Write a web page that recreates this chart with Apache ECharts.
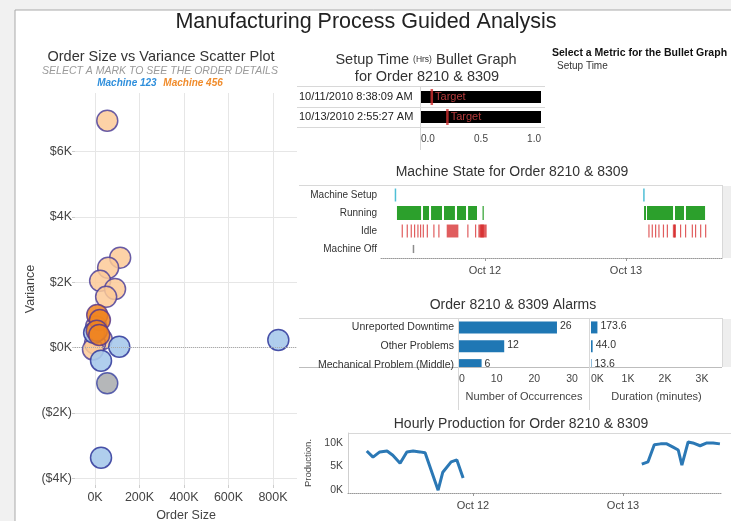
<!DOCTYPE html>
<html>
<head>
<meta charset="utf-8">
<title>Manufacturing Process Guided Analysis</title>
<script src="https://cdn.jsdelivr.net/npm/echarts@6/dist/echarts.min.js"></script>
<style>
  html, body { margin: 0; padding: 0; background: #f1f1f1; }
  #dash { width: 731px; height: 521px; }
</style>
</head>
<body>
<div id="dash"></div>
<script>
  // ---- scatter: [order size, variance $] ----
  var machine456 = [[55000, 6940], [113000, 2750], [59000, 2440], [23000, 2040], [90000, 1790],
                    [50000, 1550], [5000, 640], [30000, 250], [0, 120], [-9000, -60]];
  var machine456Selected = [[10000, 995], [22000, 840], [8000, 514], [19000, 383]];
  var machine123 = [[-4000, 450], [109000, 25], [27000, -404], [824000, 230], [27000, -3372]];
  var machine123Dim = [[55000, -1096]];

  // ---- bullet graph ----
  var bulletOrders = ['10/11/2010 8:38:09 AM', '10/13/2010 2:55:27 AM'];
  var setupHours = [1.0, 1.0];
  var setupTarget = [0.09, 0.22];

  // ---- machine state ----
  var stateNames = ['Machine Setup', 'Running', 'Idle', 'Machine Off'];
  var setupPeriods = [['2010-10-11 08:38', '2010-10-11 08:45'], ['2010-10-13 02:55', '2010-10-13 03:02']];
  var runningPeriods = [
    ['2010-10-11 09:01', '2010-10-11 13:07'], ['2010-10-11 13:27', '2010-10-11 14:28'],
    ['2010-10-11 14:49', '2010-10-11 16:41'], ['2010-10-11 17:01', '2010-10-11 18:53'],
    ['2010-10-11 19:14', '2010-10-11 20:46'], ['2010-10-11 21:07', '2010-10-11 22:38'],
    ['2010-10-11 23:35', '2010-10-11 23:44'],
    ['2010-10-13 03:04', '2010-10-13 03:24'], ['2010-10-13 03:34', '2010-10-13 08:00'],
    ['2010-10-13 08:20', '2010-10-13 09:52'], ['2010-10-13 10:12', '2010-10-13 13:27']
  ];
  var idlePeriods = [
    ['2010-10-11 09:49', '2010-10-11 09:55'], ['2010-10-11 10:40', '2010-10-11 10:46'],
    ['2010-10-11 11:21', '2010-10-11 11:27'], ['2010-10-11 11:55', '2010-10-11 12:01'],
    ['2010-10-11 12:29', '2010-10-11 12:35'], ['2010-10-11 12:56', '2010-10-11 13:02'],
    ['2010-10-11 13:24', '2010-10-11 13:30'], ['2010-10-11 14:05', '2010-10-11 14:11'],
    ['2010-10-11 15:12', '2010-10-11 15:18'], ['2010-10-11 16:03', '2010-10-11 16:09'],
    ['2010-10-11 17:29', '2010-10-11 19:28'], ['2010-10-11 20:59', '2010-10-11 21:05'],
    ['2010-10-11 22:18', '2010-10-11 22:24'], ['2010-10-11 22:52', '2010-10-12 00:17'],
    ['2010-10-11 23:12', '2010-10-11 23:48'],
    ['2010-10-13 03:48', '2010-10-13 03:54'], ['2010-10-13 04:22', '2010-10-13 04:28'],
    ['2010-10-13 04:56', '2010-10-13 05:02'], ['2010-10-13 05:30', '2010-10-13 05:36'],
    ['2010-10-13 06:16', '2010-10-13 06:22'], ['2010-10-13 06:56', '2010-10-13 07:02'],
    ['2010-10-13 07:58', '2010-10-13 08:30'], ['2010-10-13 08:08', '2010-10-13 08:22'],
    ['2010-10-13 09:11', '2010-10-13 09:17'], ['2010-10-13 10:02', '2010-10-13 10:08'],
    ['2010-10-13 11:11', '2010-10-13 11:17'], ['2010-10-13 11:44', '2010-10-13 11:50'],
    ['2010-10-13 12:36', '2010-10-13 12:42'], ['2010-10-13 13:27', '2010-10-13 13:33']
  ];
  var offPeriods = [['2010-10-11 11:42', '2010-10-11 11:48']];
  var dayTicks = ['2010-10-12 00:00', '2010-10-13 00:00'];
  var dayLabels = ['Oct 12', 'Oct 13'];

  // ---- alarms ----
  var alarmTypes = ['Unreported Downtime', 'Other Problems', 'Mechanical Problem (Middle)'];
  var alarmCounts = [26, 12, 6];
  var alarmMinutes = [173.6, 44.0, 13.6];

  // ---- hourly production ----
  var productionTimes = [
    '2010-10-11 07:00', '2010-10-11 08:00', '2010-10-11 09:05', '2010-10-11 10:15', '2010-10-11 11:10',
    '2010-10-11 12:20', '2010-10-11 13:25', '2010-10-11 14:25', '2010-10-11 15:30', '2010-10-11 16:20',
    '2010-10-11 18:25', '2010-10-11 19:10', '2010-10-11 20:30', '2010-10-11 21:25', '2010-10-11 22:25',
    '2010-10-12 12:00',
    '2010-10-13 03:00', '2010-10-13 04:00', '2010-10-13 05:00', '2010-10-13 06:00', '2010-10-13 07:00',
    '2010-10-13 08:00', '2010-10-13 08:50', '2010-10-13 09:25', '2010-10-13 10:25', '2010-10-13 11:10',
    '2010-10-13 12:20', '2010-10-13 13:25', '2010-10-13 14:25', '2010-10-13 15:30'
  ];
  var productionValues = [
    8300, 7000, 8100, 8300, 7400, 5700, 8100, 8300, 8100, 7900, 0, 3800, 6000, 6400, 2600,
    '-',
    5500, 6000, 9600, 9800, 9800, 9100, 8500, 5300, 10200, 10000, 9400, 10000, 10000, 9800
  ];

  var FONT = "'Liberation Sans', Arial, sans-serif";

  // time strings -> hours since Oct 12 00:00 (value axes)
  function hrs(s) {
    var p = s.split(/[- :]/);
    var t = new Date(+p[0], p[1] - 1, +p[2], +(p[3] || 0), +(p[4] || 0)).getTime();
    var base = new Date(2010, 9, 12, 0, 0).getTime();
    return (t - base) / 3600000;
  }
  function kFmt(v) { return (v / 1000) + 'K'; }
  function moneyFmt(v) {
    if (v === 0) return '$0K';
    return v < 0 ? '($' + (-v / 1000) + 'K)' : '$' + (v / 1000) + 'K';
  }
  var dayHours = dayTicks.map(hrs);
  function dayFmt(v) {
    var i = dayHours.indexOf(v);
    return i >= 0 ? dayLabels[i] : '';
  }

  // machine state rows: [row, start, end]
  var stateData = [];
  [setupPeriods, runningPeriods, idlePeriods, offPeriods].forEach(function (list, row) {
    list.forEach(function (p) { stateData.push([row, hrs(p[0]), hrs(p[1])]); });
  });
  var stateStyle = [
    { color: '#4fbfd6', h: 0.72, minW: 1.5, op: 1 },
    { color: '#2ca02c', h: 0.78, minW: 1.2, op: 1 },
    { color: '#d62728', h: 0.72, minW: 1.2, op: 0.75 },
    { color: '#8c8c8c', h: 0.45, minW: 1.5, op: 1 }
  ];

  function renderState(params, api) {
    var row = api.value(0);
    var s = api.coord([api.value(1), row]);
    var e = api.coord([api.value(2), row]);
    var st = stateStyle[row];
    var h = api.size([0, 1])[1] * st.h;
    return {
      type: 'rect',
      shape: { x: s[0], y: s[1] - h / 2, width: Math.max(e[0] - s[0], st.minW), height: h },
      style: { fill: st.color, opacity: st.op }
    };
  }

  function alarmRenderer(fmt) {
    return function (params, api) {
      var row = api.value(0), v = api.value(1);
      var s = api.coord([0, row]);
      var e = api.coord([v, row]);
      return {
        type: 'group',
        children: [
          { type: 'rect', shape: { x: s[0], y: s[1] - 6, width: e[0] - s[0], height: 12 },
            style: { fill: '#1f77b4' } },
          { type: 'text', x: e[0] + 3, y: s[1] - 1,
            style: { text: fmt(v), fill: '#333', font: '10.5px ' + FONT, verticalAlign: 'middle' } }
        ]
      };
    };
  }

  var countData = alarmCounts.map(function (v, i) { return [i, v]; });
  var minuteData = alarmMinutes.map(function (v, i) { return [i, v]; });
  var productionData = productionTimes.map(function (t, i) { return [hrs(t), productionValues[i]]; });

  var lineColor = '#d8d8d8';
  function hline(x1, x2, y, color) {
    return { type: 'line', silent: true, shape: { x1: x1, y1: y, x2: x2, y2: y },
             style: { stroke: color || lineColor, lineWidth: 1 } };
  }
  function vline(x, y1, y2, color) {
    return { type: 'line', silent: true, shape: { x1: x, y1: y1, x2: x, y2: y2 },
             style: { stroke: color || lineColor, lineWidth: 1 } };
  }
  function label(x, y, text, size, opts) {
    opts = opts || {};
    return { type: 'text', silent: true, x: x, y: y,
             style: { text: text, font: (opts.weight || 'normal') + ' ' + size + 'px ' + FONT,
                      fill: opts.color || '#333', align: opts.align || 'center', verticalAlign: 'middle' } };
  }
  function gridBox(left, top, width, height) {
    return { left: left, top: top, width: width, height: height, outerBoundsMode: 'none', containLabel: false };
  }

  var axisText = { fontFamily: FONT, color: '#444' };
  var noZero = { show: false, onZero: false };

  var chart = echarts.init(document.getElementById('dash'));
  chart.setOption({
    backgroundColor: '#f1f1f1',
    animation: false,
    textStyle: { fontFamily: FONT },
    graphic: [
      { type: 'rect', silent: true, z: -10, shape: { x: 15, y: 10, width: 740, height: 540 },
        style: { fill: '#fff', stroke: '#a9a9a9', lineWidth: 1 } },
      label(366, 22, 'Manufacturing Process Guided Analysis', 21.5, { color: '#222' }),
      label(161, 57, 'Order Size vs Variance Scatter Plot', 14.5, { color: '#333' }),
      label(160, 71, 'SELECT A MARK TO SEE THE ORDER DETAILS', 10.5, { color: '#9a9a9a', weight: 'italic' }),
      { type: 'text', silent: true, x: 160, y: 83,
        style: { text: '{b|Machine 123}  {o|Machine 456}', align: 'center', verticalAlign: 'middle',
                 rich: { b: { fill: '#2f8fdc', font: 'italic bold 10px ' + FONT },
                         o: { fill: '#f08c2c', font: 'italic bold 10px ' + FONT } } } },
      { type: 'text', silent: true, x: 426, y: 60,
        style: { text: '{a|Setup Time }{s|(Hrs)}{a| Bullet Graph}', align: 'center', verticalAlign: 'middle',
                 rich: { a: { fill: '#333', font: '14.5px ' + FONT }, s: { fill: '#333', font: '8.5px ' + FONT } } } },
      label(427, 77, 'for Order 8210 & 8309', 14.5),
      label(552, 53, 'Select a Metric for the Bullet Graph', 10.5, { align: 'left', weight: 'bold', color: '#111' }),
      label(557, 66, 'Setup Time', 10, { align: 'left', color: '#333' }),
      hline(297, 545, 86.5), hline(297, 545, 107.5), hline(297, 545, 127.5),
      vline(420.5, 86, 150),
      label(512, 172, 'Machine State for Order 8210 & 8309', 14),
      hline(299, 722, 185.5),
      vline(722.5, 185, 258),
      { type: 'rect', silent: true, shape: { x: 723, y: 186, width: 8, height: 72 }, style: { fill: '#eeeeee' } },
      label(513, 305, 'Order 8210 & 8309 Alarms', 14),
      hline(299, 722, 318.5),
      hline(299, 722, 367.5, '#bdbdbd'),
      vline(458.5, 318, 410), vline(589.5, 318, 410), vline(722.5, 318, 367),
      { type: 'rect', silent: true, shape: { x: 723, y: 319, width: 8, height: 48 }, style: { fill: '#eeeeee' } },
      label(521, 424, 'Hourly Production for Order 8210 & 8309', 14),
      hline(348, 731, 433.5)
    ],
    grid: [
      gridBox(75, 93, 222, 392),
      gridBox(421, 87, 120, 40),
      gridBox(381, 186, 341, 72),
      gridBox(459, 318, 130, 49),
      gridBox(591, 318, 131, 49),
      gridBox(348, 433, 374, 60)
    ],
    xAxis: [
      { type: 'value', gridIndex: 0, min: -90000, max: 908000,
        name: 'Order Size', nameLocation: 'middle', nameGap: 21,
        nameTextStyle: { fontSize: 12.5, color: '#444', fontFamily: FONT },
        axisLine: noZero, axisTick: { show: true, length: 3, lineStyle: { color: '#ccc' } },
        axisLabel: Object.assign({ fontSize: 12.5, margin: 6, formatter: kFmt, showMinLabel: false, showMaxLabel: false }, axisText),
        splitLine: { show: true, showMinLine: false, showMaxLine: false, lineStyle: { color: '#e6e6e6' } } },
      { type: 'value', gridIndex: 1, min: 0, max: 1, interval: 0.5,
        axisLine: noZero, axisTick: { show: false }, splitLine: { show: false },
        axisLabel: Object.assign({ fontSize: 10, margin: 7, alignMinLabel: 'left', alignMaxLabel: 'right',
                                   formatter: function (v) { return v.toFixed(1); } }, axisText) },
      { type: 'value', gridIndex: 2, min: hrs('2010-10-11 06:18'), max: hrs('2010-10-13 16:20'),
        axisLine: { show: true, onZero: false, lineStyle: { color: '#999', type: 'dotted' } },
        axisTick: { show: true, length: 3, customValues: dayHours, lineStyle: { color: '#999' } },
        axisLabel: Object.assign({ fontSize: 11, margin: 7, customValues: dayHours, formatter: dayFmt }, axisText),
        splitLine: { show: false } },
      { type: 'value', gridIndex: 3, min: 0, max: 34.5, interval: 10,
        name: 'Number of Occurrences', nameLocation: 'middle', nameGap: 24,
        nameTextStyle: { fontSize: 11, color: '#444', fontFamily: FONT },
        axisLine: noZero, axisTick: { show: false }, splitLine: { show: false },
        axisLabel: Object.assign({ fontSize: 10.5, margin: 7, alignMinLabel: 'left', showMaxLabel: false }, axisText) },
      { type: 'value', gridIndex: 4, min: 0, max: 3540, interval: 1000,
        name: 'Duration (minutes)', nameLocation: 'middle', nameGap: 24,
        nameTextStyle: { fontSize: 11, color: '#444', fontFamily: FONT },
        axisLine: noZero, axisTick: { show: false }, splitLine: { show: false },
        axisLabel: Object.assign({ fontSize: 10.5, margin: 7, alignMinLabel: 'left', showMaxLabel: false, formatter: kFmt }, axisText) },
      { type: 'value', gridIndex: 5, min: hrs('2010-10-11 04:00'), max: hrs('2010-10-13 15:50'),
        axisLine: { show: true, onZero: false, lineStyle: { color: '#999', type: 'dotted' } },
        axisTick: { show: true, length: 3, customValues: dayHours, lineStyle: { color: '#999' } },
        axisLabel: Object.assign({ fontSize: 11, margin: 7, customValues: dayHours, formatter: dayFmt }, axisText),
        splitLine: { show: false } }
    ],
    yAxis: [
      { type: 'value', gridIndex: 0, min: -4208, max: 7788,
        name: 'Variance', nameLocation: 'middle', nameGap: 33, nameRotate: 90,
        nameTextStyle: { fontSize: 12.5, color: '#444', fontFamily: FONT },
        axisLine: noZero, axisTick: { show: true, length: 3, lineStyle: { color: '#ccc' } },
        axisLabel: Object.assign({ fontSize: 12.5, margin: 3, formatter: moneyFmt, showMinLabel: false, showMaxLabel: false }, axisText),
        splitLine: { show: true, showMinLine: false, showMaxLine: false, lineStyle: { color: '#e6e6e6' } } },
      { type: 'category', gridIndex: 1, data: bulletOrders, inverse: true,
        axisLine: noZero, axisTick: { show: false },
        axisLabel: { fontSize: 11, color: '#222', fontFamily: FONT, align: 'left', margin: 122 } },
      { type: 'category', gridIndex: 2, data: stateNames, inverse: true,
        axisLine: noZero, axisTick: { show: false },
        axisLabel: { fontSize: 10, color: '#333', fontFamily: FONT, margin: 4 } },
      { type: 'value', gridIndex: 3, min: -0.5, max: 2.1, interval: 0.5, inverse: true,
        axisLine: noZero, axisTick: { show: false }, splitLine: { show: false },
        axisLabel: { fontSize: 10.5, color: '#333', fontFamily: FONT, margin: 5, showMaxLabel: false,
                     formatter: function (v) { return Number.isInteger(v) ? alarmTypes[v] : ''; } } },
      { type: 'value', gridIndex: 4, min: -0.5, max: 2.1, interval: 0.5, inverse: true,
        axisLine: noZero, axisTick: { show: false }, splitLine: { show: false },
        axisLabel: { show: false } },
      { type: 'value', gridIndex: 5, min: -600, max: 12100, splitNumber: 2,
        name: 'Production.', nameLocation: 'middle', nameGap: 27, nameRotate: 90,
        nameTextStyle: { fontSize: 9.5, color: '#444', fontFamily: FONT },
        axisLine: { show: true, onZero: false, lineStyle: { color: '#cfcfcf' } }, axisTick: { show: false },
        splitLine: { show: false },
        axisLabel: Object.assign({ fontSize: 10.5, margin: 5, formatter: kFmt, showMinLabel: false, showMaxLabel: false }, axisText) }
    ],
    series: [
      { name: 'Machine 456', type: 'scatter', xAxisIndex: 0, yAxisIndex: 0, data: machine456,
        symbolSize: 21, itemStyle: { color: '#fdca98', borderColor: '#4f429a', borderWidth: 1.5, opacity: 0.85 } },
      { name: 'Machine 123', type: 'scatter', xAxisIndex: 0, yAxisIndex: 0, data: machine123,
        symbolSize: 21, itemStyle: { color: '#a7c9eb', borderColor: '#363f9e', borderWidth: 1.5, opacity: 0.9 },
        markLine: { silent: true, symbol: 'none', label: { show: false },
                    lineStyle: { color: '#aaa', type: 'dotted', width: 1 }, data: [{ yAxis: 0 }] } },
      { name: 'Machine 123 (other)', type: 'scatter', xAxisIndex: 0, yAxisIndex: 0, data: machine123Dim,
        symbolSize: 21, itemStyle: { color: '#a3a5a8', borderColor: '#363f9e', borderWidth: 1.5 } },
      { name: 'Machine 456 (selected)', type: 'scatter', xAxisIndex: 0, yAxisIndex: 0, data: machine456Selected,
        symbolSize: 21, itemStyle: { color: '#f0841e', borderColor: '#5a3a8a', borderWidth: 1.5, opacity: 0.85 } },

      { name: 'Setup Time', type: 'bar', xAxisIndex: 1, yAxisIndex: 1, data: setupHours,
        barWidth: 12, itemStyle: { color: '#000' } },
      { name: 'Target', type: 'scatter', xAxisIndex: 1, yAxisIndex: 1,
        data: setupTarget.map(function (v, i) { return [v, i]; }),
        symbol: 'rect', symbolSize: [2.5, 16], itemStyle: { color: '#d3302f' },
        label: { show: true, position: 'right', distance: 2, formatter: 'Target',
                 color: '#e0484a', fontSize: 11, fontFamily: FONT } },

      { name: 'Machine State', type: 'custom', xAxisIndex: 2, yAxisIndex: 2,
        renderItem: renderState, encode: { x: [1, 2], y: 0 }, data: stateData },

      { name: 'Number of Occurrences', type: 'custom', xAxisIndex: 3, yAxisIndex: 3, clip: true,
        renderItem: alarmRenderer(function (v) { return String(v); }), encode: { x: 1, y: 0 }, data: countData },
      { name: 'Duration (minutes)', type: 'custom', xAxisIndex: 4, yAxisIndex: 4, clip: true,
        renderItem: alarmRenderer(function (v) { return v.toFixed(1); }), encode: { x: 1, y: 0 }, data: minuteData },

      { name: 'Production', type: 'line', xAxisIndex: 5, yAxisIndex: 5, data: productionData,
        showSymbol: false, connectNulls: false, lineStyle: { color: '#2b78b5', width: 3 },
        itemStyle: { color: '#2b78b5' } }
    ]
  });
</script>
</body>
</html>
